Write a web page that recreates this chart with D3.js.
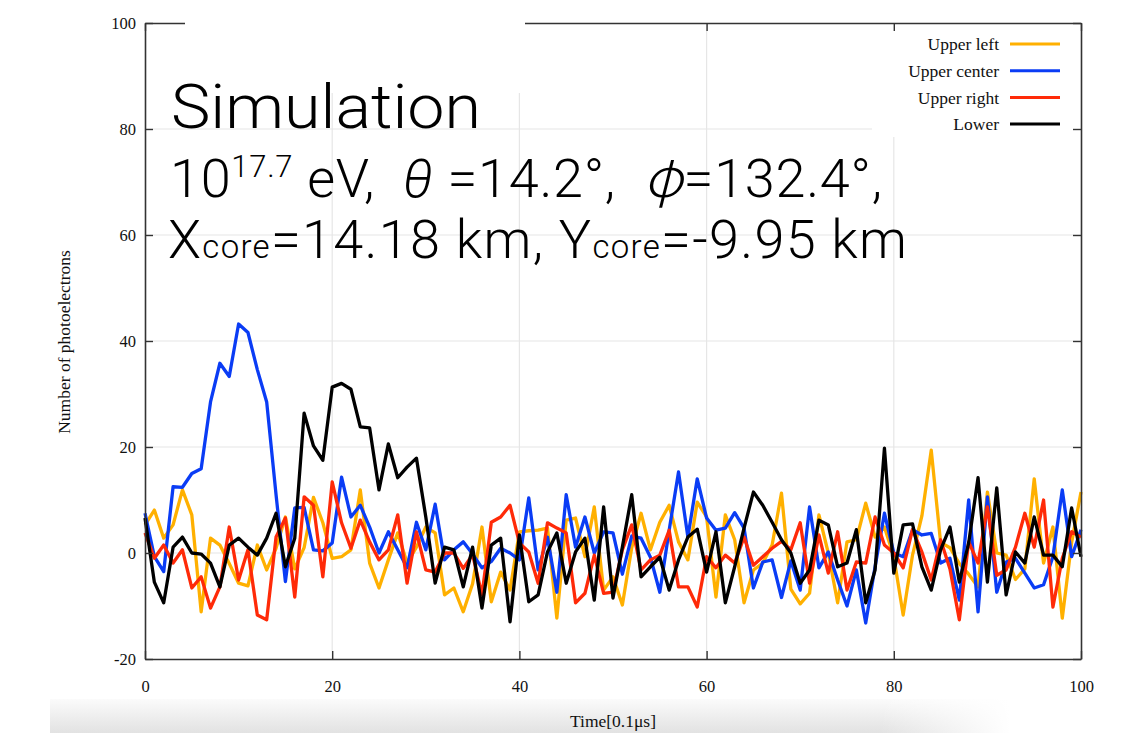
<!DOCTYPE html>
<html>
<head>
<meta charset="utf-8">
<script src="https://cdn.jsdelivr.net/npm/d3@7"></script>
<style>
  html, body { margin: 0; padding: 0; background: #fff; }
  svg { display: block; }
  .pre { white-space: pre; }
</style>
</head>
<body>
<svg id="chart" width="1128" height="733"></svg>
<script>
// Photoelectron traces per detector segment, time bins 0..100 (0.1 µs each)
const timeBins = d3.range(0, 101);

const upperLeft = [5.3, 8.1, 2.8, 5.3, 11.9, 7.2, -11.1, 2.8, 1.5, -2, -5.7, -6.2, 1.5, -3.2, 0.9, 6.8, -3, 1, 10.5, 5.7,
  -1, -0.7, 0.6, 11.9, -1.9, -6.6, -1.3, 3.8, -1.9, 1.1, 4.9, 3.8, -7.9, -6.6, -11.1, -5.8, 4.9, -9.2, -3.6, -7,
  4, 4.2, 4.3, 4.7, -12.3, 6.2, 6.6, -0.7, 8.7, -7, -4.5, -9.8, 1, 7.5, 0.6, 5.8, 9, 2.1, -1.3, 9.6,
  6.8, -8.3, 7.2, 2.5, -9.4, -3.2, -1.9, 1.5, 11.3, -6.8, -9.6, -7.6, 7.2, 0, -9.4, 2.1, 2.5, 9.4, 3, 4.9,
  -0.7, -11.7, -0.4, 7, 19.4, 2, 1, -2, -4, -6.4, 11.5, 0, -0.4, -5, -3, 14, -1.9, 4.9, -12.3, 2, 11.5];

const upperCenter = [7.5, -0.7, -3.5, 12.5, 12.4, 15, 15.9, 28.5, 35.8, 33.3, 43.2, 41.6, 34.6, 28.5, 11, -5.4, 8.5, 8.6, 0.6, 0.4,
  1.9, 14.3, 6.8, 9, 4.9, 0, 4, 0.6, -2.8, 5.8, 0.6, 9.2, -1.3, 0.6, 2.1, -0.2, -2.8, -1.6, 0.9, 0,
  -1.3, 10.4, -3.2, 3, -7.4, 11, 1.1, 6.8, 0, 4, 3.8, -4, 3.2, 2.8, -0.8, -7.4, 4.3, 15.3, 3, 14,
  6.6, 4.3, 4.7, 7.6, 4.7, -6.6, -1.7, -1.3, -8.4, -1.5, -7, 8.7, -2.8, 0.2, -5.1, -10, -3.2, -13.2, -2.6, 7.5,
  0, -0.7, 4.4, 3.4, 3.7, -1.9, -1, -8.9, 10, -11.1, 10.6, -7.4, -1.7, -1, -3.8, -6.6, -6, -0.7, 11.9, -0.7, 4.4];

const upperRight = [3.8, -1, 1.5, -1.9, 0.6, -6.6, -4.5, -10.4, -6.4, 4.9, -5.1, 0.6, -11.7, -12.6, 3, 6.6, -8.3, 10.6, 9, -4.5,
  13.4, 5.7, 0.9, 6.2, 2.1, -1.3, 0.6, 7.2, -5.7, 4, -3.2, -3.6, 0, 0, -2.9, -0.3, -7.9, 5.8, 6.8, 9,
  1.9, 0.2, -5.7, 5.7, 4.7, 3.8, -9.4, -7.6, -0.4, -7.6, -7.4, 0.6, 5.3, -3.2, -1.3, -0.4, 4.3, -6.4, -6.4, -10.2,
  -0.7, -2.8, -0.4, -1.9, 3, -2.3, -0.7, 0.9, 2.2, 0.6, 5.7, -5.7, 3.4, -3.8, 4, -7, -1.7, -1.9, 6.8, 1.5,
  0, -2.8, 4.4, 0.2, -5.1, 2.5, -3, -12.6, 2.1, -1.9, 8.7, -4.2, -3.2, 1.1, 7.5, 1.1, 10, -10.2, -1, 4, 3];

const lower = [6.6, -5.5, -9.4, 1.1, 3, 0, -0.2, -1.9, -6.4, 1.5, 2.8, 1.1, -0.4, 2.8, 7.5, -2.6, 2.8, 26.4, 20.2, 17.5,
  31.3, 32, 30.9, 23.8, 23.6, 11.9, 20.6, 14.2, 16.2, 17.9, 6.8, -5.7, 1.1, 0.6, -6.4, 1.1, -10.4, 1.5, 2.8, -13,
  3.4, -9.2, -7.9, 0.2, 3.8, -5.7, 0.2, 2.8, -8.9, 8.7, -8.5, 1.1, 11, -4.5, -2.6, -0.8, -7, -1.3, 3, 4.5,
  -3.6, 4, -9.4, -2.6, 4.7, 11.5, 9, 5.8, 2.5, 0, -5.7, -3.2, 6.2, 5.3, -2.6, -1.9, 4.4, -9.4, -3.2, 19.8,
  -3.8, 5.3, 5.5, -2.6, -7, 0.6, 4.9, -5.5, 1.9, 14.2, -5.5, 12.3, -7.9, 0.2, -1.9, 6.8, -0.4, -0.4, -2.6, 8.5, -0.7];

const seriesNames = ["Upper left", "Upper center", "Upper right", "Lower"];
const seriesColors = ["#ffb000", "#0a3cf5", "#ff2a08", "#000000"];
const seriesValues = [upperLeft, upperCenter, upperRight, lower];

const xTicks = [0, 20, 40, 60, 80, 100];
const yTicks = [-20, 0, 20, 40, 60, 80, 100];

const svg = d3.select("#chart");
const serif = "'Liberation Serif', 'Times New Roman', serif";
const sans = "Roboto, 'Noto Sans CJK JP', sans-serif";

const x = d3.scaleLinear().domain([0, 100]).range([145, 1081]);
const y = d3.scaleLinear().domain([-20, 100]).range([659, 23]);

// soft grey band behind the x-axis title
const defs = svg.append("defs");
const bandGrad = defs.append("linearGradient").attr("id", "band").attr("x1", 0).attr("y1", 0).attr("x2", 0).attr("y2", 1);
bandGrad.append("stop").attr("offset", "0%").attr("stop-color", "#fbfbfb");
bandGrad.append("stop").attr("offset", "100%").attr("stop-color", "#e2e2e2");
const fadeGrad = defs.append("linearGradient").attr("id", "fade").attr("x1", 0).attr("y1", 0).attr("x2", 1).attr("y2", 0);
fadeGrad.append("stop").attr("offset", "0%").attr("stop-color", "#ffffff").attr("stop-opacity", 0);
fadeGrad.append("stop").attr("offset", "100%").attr("stop-color", "#ffffff").attr("stop-opacity", 1);
svg.append("rect").attr("x", 50).attr("y", 699).attr("width", 960).attr("height", 34).attr("fill", "url(#band)");
svg.append("rect").attr("x", 880).attr("y", 699).attr("width", 130).attr("height", 34).attr("fill", "url(#fade)");

// grid
const grid = svg.append("g").attr("stroke", "#e6e6e6").attr("stroke-width", 1.2);
grid.selectAll("line.v").data(xTicks.slice(1, -1)).join("line")
  .attr("x1", d => x(d)).attr("x2", d => x(d)).attr("y1", y(100)).attr("y2", y(-20));
grid.selectAll("line.h").data(yTicks.slice(1, -1)).join("line")
  .attr("y1", d => y(d)).attr("y2", d => y(d)).attr("x1", x(0)).attr("x2", x(100));

// legend backdrop
svg.append("rect").attr("x", 872).attr("y", y(100)).attr("width", x(100) - 872).attr("height", 114).attr("fill", "#fff");

// traces
const line = d3.line().x((d, i) => x(timeBins[i])).y(d => y(d));
svg.append("g").selectAll("path").data(seriesValues).join("path")
  .attr("d", line)
  .attr("fill", "none")
  .attr("stroke", (d, i) => seriesColors[i])
  .attr("stroke-width", 3.3)
  .attr("stroke-linejoin", "round");

// axes with inward ticks on all four sides
function styleAxis(g) {
  g.selectAll(".domain").attr("stroke", "#333").attr("stroke-width", 1.6);
  g.selectAll(".tick line").attr("stroke", "#333").attr("stroke-width", 1.4);
  g.selectAll("text").attr("font-family", serif).attr("font-size", 16.5).attr("fill", "#111");
}
const plain = d => String(d);
svg.append("g").attr("transform", `translate(0,${y(-20)})`)
  .call(d3.axisBottom(x).tickValues(xTicks).tickFormat(plain).tickSize(-8).tickSizeOuter(0).tickPadding(21))
  .call(styleAxis);
svg.append("g").attr("transform", `translate(${x(0)},0)`)
  .call(d3.axisLeft(y).tickValues(yTicks).tickFormat(plain).tickSize(-8).tickSizeOuter(0).tickPadding(9))
  .call(styleAxis);
svg.append("g").attr("transform", `translate(0,${y(100)})`)
  .call(d3.axisTop(x).tickValues(xTicks).tickSize(-8).tickSizeOuter(0).tickFormat(""))
  .call(styleAxis);
svg.append("g").attr("transform", `translate(${x(100)},0)`)
  .call(d3.axisRight(y).tickValues(yTicks).tickSize(-8).tickSizeOuter(0).tickFormat(""))
  .call(styleAxis);

// axis titles
svg.append("text").attr("x", 613).attr("y", 727).attr("text-anchor", "middle")
  .attr("font-family", serif).attr("font-size", 17.5).attr("fill", "#111").text("Time[0.1\u03bcs]");
svg.append("text").attr("transform", "translate(70,342) rotate(-90)").attr("text-anchor", "middle")
  .attr("font-family", serif).attr("font-size", 17.5).attr("fill", "#111").text("Number of photoelectrons");

// annotation panel
svg.append("rect").attr("x", 185).attr("y", 8).attr("width", 340).attr("height", 85).attr("fill", "#fff");
const ann = svg.append("g").attr("font-family", sans).attr("font-weight", 300).attr("fill", "#000");
ann.append("text").attr("x", 171).attr("y", 128).attr("font-size", 61)
  .attr("textLength", 310).attr("lengthAdjust", "spacingAndGlyphs").text("Simulation");

const l2 = ann.append("text").attr("class", "pre").attr("x", 170).attr("y", 197).attr("font-size", 54)
  .attr("textLength", 712).attr("lengthAdjust", "spacing");
l2.append("tspan").text("10");
l2.append("tspan").attr("font-size", 31).attr("dy", -20).text("17.7");
l2.append("tspan").attr("dy", 20).text(" eV,  ");
l2.append("tspan").attr("font-style", "italic").text("\u03b8");
l2.append("tspan").text(" =14.2\u00b0,  ");
l2.append("tspan").attr("font-family", "'Noto Sans CJK JP'").attr("font-style", "italic").text("\u03c6");
l2.append("tspan").text("=132.4\u00b0,");

const l3 = ann.append("text").attr("x", 168).attr("y", 258).attr("font-size", 54)
  .attr("textLength", 739).attr("lengthAdjust", "spacing");
l3.append("tspan").text("X");
l3.append("tspan").attr("font-size", 33).text("core");
l3.append("tspan").text("=14.18 km, Y");
l3.append("tspan").attr("font-size", 33).text("core");
l3.append("tspan").text("=-9.95 km");

// legend
const leg = svg.append("g").selectAll("g").data(seriesNames).join("g")
  .attr("transform", (d, i) => `translate(0,${44 + i * 26.7})`);
leg.append("text").attr("x", 999).attr("dy", "0.35em").attr("text-anchor", "end")
  .attr("font-family", serif).attr("font-size", 17.5).attr("fill", "#111").text(d => d);
leg.append("line").attr("x1", 1010).attr("x2", 1060)
  .attr("stroke", (d, i) => seriesColors[i]).attr("stroke-width", 3);
</script>
</body>
</html>
